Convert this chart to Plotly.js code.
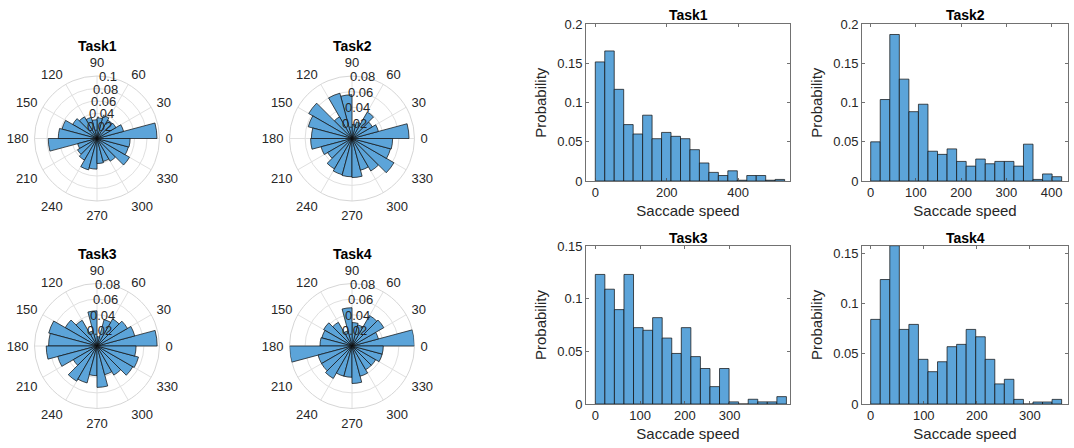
<!DOCTYPE html>
<html>
<head>
<meta charset="utf-8">
<script src="https://cdn.plot.ly/plotly-3.0.1.min.js"></script>
<style>html,body{margin:0;padding:0;background:#fff;}#chart{width:1074px;height:448px;}</style>
</head>
<body>
<div id="chart"></div>
<script>
// ---------------- DATA ----------------
const taskNames = ['Task1', 'Task2', 'Task3', 'Task4'];

// Direction histograms: 24 bins of 15 degrees, starting at 0 deg (probability)
const dirBinWidth = 15;
const dirTask1 = [0.096, 0.044, 0.035, 0.034, 0.038, 0.033, 0.030, 0.035, 0.040, 0.045, 0.058, 0.062,
                  0.078, 0.032, 0.036, 0.040, 0.052, 0.049, 0.040, 0.038, 0.042, 0.060, 0.052, 0.053];
const dirTask2 = [0.073, 0.035, 0.030, 0.039, 0.022, 0.018, 0.056, 0.060, 0.032, 0.064, 0.058, 0.052,
                  0.053, 0.041, 0.036, 0.045, 0.048, 0.049, 0.050, 0.042, 0.048, 0.062, 0.051, 0.052];
const dirTask3 = [0.077, 0.050, 0.045, 0.040, 0.035, 0.012, 0.045, 0.020, 0.038, 0.047, 0.064, 0.062,
                  0.065, 0.052, 0.035, 0.052, 0.049, 0.038, 0.053, 0.038, 0.043, 0.053, 0.055, 0.050];
const dirTask4 = [0.080, 0.035, 0.047, 0.045, 0.028, 0.030, 0.049, 0.020, 0.035, 0.042, 0.040, 0.041,
                  0.080, 0.045, 0.045, 0.048, 0.040, 0.040, 0.048, 0.040, 0.035, 0.035, 0.040, 0.040];
const dirRmax = [0.1, 0.08, 0.08, 0.08];
const dirRTicks = [[0.02, 0.04, 0.06, 0.08, 0.1], [0.02, 0.04, 0.06, 0.08], [0.02, 0.04, 0.06, 0.08], [0.02, 0.04, 0.06, 0.08]];
const angleTicks = [0, 30, 60, 90, 120, 150, 180, 210, 240, 270, 300, 330];

// Saccade speed histograms (probability), bins start at 0
const speedBinWidth = [26.5, 21.1, 21.35, 18.0];
const speedTask1 = [0.152, 0.166, 0.117, 0.072, 0.060, 0.084, 0.054, 0.062, 0.057, 0.054,
                    0.040, 0.023, 0.011, 0.007, 0.013, 0.001, 0.007, 0.007, 0.001, 0.002];
const speedTask2 = [0.050, 0.104, 0.187, 0.130, 0.0885, 0.098, 0.038, 0.034, 0.041, 0.025,
                    0.019, 0.028, 0.022, 0.025, 0.025, 0.019, 0.047, 0.002, 0.009, 0.0055];
const speedTask3 = [0.123, 0.109, 0.0896, 0.123, 0.0725, 0.070, 0.082, 0.0626, 0.048, 0.0725,
                    0.045, 0.0337, 0.0165, 0.0337, 0.002, 0, 0.0045, 0.002, 0.002, 0.007];
const speedTask4 = [0.0843, 0.124, 0.1577, 0.0743, 0.0793, 0.0445, 0.0322, 0.0421, 0.0571, 0.0594,
                    0.0743, 0.067, 0.0445, 0.020, 0.0246, 0.0046, 0, 0.002, 0.002, 0.0046];
const speedXTicks = [[0, 200, 400], [0, 100, 200, 300, 400], [0, 100, 200, 300], [0, 100, 200, 300]];
const speedXRange = [[-26, 545], [-19.2, 436], [-20.8, 435], [-16.4, 372]];
const speedYRange = [[0, 0.2], [0, 0.2], [0, 0.15], [0, 0.1577]];
const speedYTicks = [[0, 0.05, 0.1, 0.15, 0.2], [0, 0.05, 0.1, 0.15, 0.2], [0, 0.05, 0.1, 0.15], [0, 0.05, 0.1, 0.15]];

// ---------------- STYLE / LAYOUT ----------------
const W = 1074, H = 448;
const barColor = '#5ca4d9';
const edgeColor = 'rgba(15,15,15,0.9)';
const textColor = '#262626';
const fontFam = '"Liberation Sans", Arial, Helvetica, sans-serif';
const gridColor = '#e0e0e0';
const radialLabelAngle = 80; // degrees, where radial tick labels sit

const dirData = [dirTask1, dirTask2, dirTask3, dirTask4];
const speedData = [speedTask1, speedTask2, speedTask3, speedTask4];

// polar centres (pixels) and radius
const polarCenters = [[97, 138.5], [352, 138.5], [97, 346], [352, 346]];
const polarR = 62.5;
// histogram boxes (pixels)
const histBoxes = [
  {l: 586, r: 790, t: 24.3, b: 181},
  {l: 862, r: 1068, t: 24.3, b: 181},
  {l: 586, r: 790, t: 246, b: 404},
  {l: 862, r: 1068, t: 245.7, b: 404}
];

const traces = [];
const layout = {
  width: W, height: H,
  margin: {l: 0, r: 0, t: 0, b: 0},
  paper_bgcolor: '#fff', plot_bgcolor: '#fff',
  showlegend: false,
  font: {family: fontFam, color: textColor, size: 13},
  annotations: []
};

for (let k = 0; k < 4; k++) {
  const pname = k === 0 ? 'polar' : 'polar' + (k + 1);
  const theta = dirData[k].map((_, i) => (i + 0.5) * dirBinWidth);
  traces.push({
    type: 'barpolar',
    r: dirData[k], theta: theta,
    width: dirData[k].map(() => dirBinWidth),
    subplot: pname,
    marker: {color: barColor, line: {color: edgeColor, width: 0.8}},
    hoverinfo: 'skip'
  });
  const [cx, cy] = polarCenters[k];
  layout[pname] = {
    domain: {x: [(cx - polarR) / W, (cx + polarR) / W], y: [1 - (cy + polarR) / H, 1 - (cy - polarR) / H]},
    bgcolor: '#fff',
    radialaxis: {
      range: [0, dirRmax[k]], tickmode: 'array', tickvals: dirRTicks[k],
      angle: radialLabelAngle, showticklabels: false, showline: false, ticks: '',
      gridcolor: gridColor, gridwidth: 1, layer: 'below traces'
    },
    angularaxis: {
      rotation: 0, direction: 'counterclockwise',
      tickmode: 'array', tickvals: angleTicks, ticktext: angleTicks.map(String),
      ticks: 'outside', ticklen: 3, tickcolor: 'rgba(0,0,0,0)',
      gridcolor: gridColor, linecolor: '#d6d6d6', linewidth: 1,
      layer: 'below traces',
      tickfont: {size: 13, color: textColor, family: fontFam}
    }
  };
  // radial tick labels, horizontal, centred on the 80-degree ray (as in the reference)
  const a = radialLabelAngle * Math.PI / 180;
  dirRTicks[k].forEach(v => {
    const rp = v / dirRmax[k] * polarR;
    layout.annotations.push({
      text: String(v), xref: 'paper', yref: 'paper',
      x: (cx + rp * Math.cos(a)) / W, y: 1 - (cy - rp * Math.sin(a)) / H,
      xanchor: 'center', yanchor: 'middle', showarrow: false,
      font: {size: 13, color: textColor, family: fontFam}
    });
  });
  layout.annotations.push({
    text: '<b>' + taskNames[k] + '</b>', xref: 'paper', yref: 'paper',
    x: cx / W, y: 1 - (k < 2 ? 46 : 254) / H, xanchor: 'center', yanchor: 'middle',
    showarrow: false, font: {size: 14, color: '#000', family: fontFam}
  });
}

for (let k = 0; k < 4; k++) {
  const xa = k === 0 ? 'x' : 'x' + (k + 1);
  const ya = k === 0 ? 'y' : 'y' + (k + 1);
  const w = speedBinWidth[k];
  traces.push({
    type: 'bar', xaxis: xa, yaxis: ya,
    x: speedData[k].map((_, i) => (i + 0.5) * w),
    y: speedData[k],
    width: speedData[k].map(() => w),
    marker: {color: barColor, line: {color: edgeColor, width: 0.8}},
    hoverinfo: 'skip'
  });
  const b = histBoxes[k];
  const axCommon = {
    showline: true, linecolor: '#4d4d4d', linewidth: 0.8, mirror: 'ticks',
    ticks: 'inside', ticklen: 3, tickwidth: 0.8, tickcolor: '#4d4d4d',
    showgrid: false, zeroline: false, fixedrange: true,
    tickfont: {size: 13, color: textColor, family: fontFam}
  };
  layout[k === 0 ? 'xaxis' : 'xaxis' + (k + 1)] = Object.assign({}, axCommon, {
    domain: [b.l / W, b.r / W], anchor: ya,
    range: speedXRange[k], tickmode: 'array', tickvals: speedXTicks[k],
    title: {text: 'Saccade speed', font: {size: 15, color: textColor, family: fontFam}, standoff: 5}
  });
  layout[k === 0 ? 'yaxis' : 'yaxis' + (k + 1)] = Object.assign({}, axCommon, {
    domain: [1 - b.b / H, 1 - b.t / H], anchor: xa,
    range: speedYRange[k], tickmode: 'array', tickvals: speedYTicks[k],
    title: {text: 'Probability', font: {size: 15, color: textColor, family: fontFam}, standoff: 6}
  });
  layout.annotations.push({
    text: '<b>' + taskNames[k] + '</b>', xref: 'paper', yref: 'paper',
    x: (b.l + b.r) / 2 / W, y: 1 - (k < 2 ? 15 : 238) / H, xanchor: 'center', yanchor: 'middle',
    showarrow: false, font: {size: 14, color: '#000', family: fontFam}
  });
}

Plotly.newPlot('chart', traces, layout, {staticPlot: true, displayModeBar: false});
</script>
</body>
</html>
